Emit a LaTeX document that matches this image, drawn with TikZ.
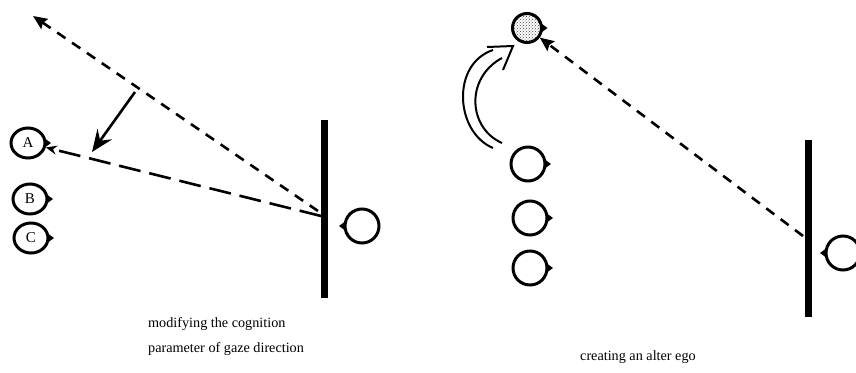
\documentclass[tikz,border=0pt]{standalone}
\usepackage{fontspec}
\setmainfont{Liberation Serif}
\usetikzlibrary{arrows.meta,patterns,shapes.geometric}

% small pointed "nose" on the side a head is facing
\newcommand\noseright[1]{\fill (#1.east) ++(-1,-4) -- ++(5.5,4) -- ++(-5.5,4) -- cycle;}
\newcommand\noseleft[1]{\fill (#1.west) ++(1,-4) -- ++(-5.5,4) -- ++(5.5,4) -- cycle;}

\begin{document}
\begin{tikzpicture}[x=1pt,y=-1pt,
  head/.style={circle, draw, line width=3pt, minimum size=34pt, inner sep=0pt},
  lettered/.style={ellipse, draw, line width=3pt, minimum width=34pt,
               minimum height=30pt, inner sep=0pt, font=\fontsize{15}{15}\selectfont},
  wall/.style={line width=7pt},
  gaze/.style={line width=2.6pt, dash pattern=on 10pt off 8pt,
               -{Stealth[length=14pt,width=12pt,inset=2pt]}},
  longgaze/.style={line width=2.6pt, dash pattern=on 22pt off 9pt,
               -{Stealth[length=11pt,width=9pt]}},
  turnarrow/.style={line width=2.6pt, -{Stealth[length=22pt,width=18pt,inset=8pt]}},
  hollow/.style={line width=2pt},
  caption/.style={anchor=base west, font=\fontsize{14.2}{14.2}\selectfont, inner sep=0pt}
]
\useasboundingbox (0,0) rectangle (856,372);

% ---------- left panel: modifying the gaze parameter ----------
\node[lettered] (A) at (28,143) {A};
\node[lettered] (B) at (30,199) {B};
\node[lettered] (C) at (31,238) {C};
\noseright{A}\noseright{B}\noseright{C}

\draw[wall] (324,120) -- (324,298);
\node[head] (L) at (362,226) {};
\noseleft{L}

\coordinate (gl) at (318,211);
\coordinate (gr) at (321,216);
\coordinate (far) at (33,16);
\draw[gaze] (gl) -- (far);
\draw[longgaze] (gr) -- (A);

\coordinate (s1) at (135,92);
\coordinate (s2) at (92,152);
\draw[turnarrow] (s1) -- (s2);

\node[caption] (t1) at (148,327) {modifying the cognition};
\node[caption] (t2) at (148,352) {parameter of gaze direction};

% ---------- right panel: creating an alter ego ----------
\node[head, minimum size=29pt, pattern=crosshatch dots, pattern color=black!75] (E) at (527,28) {};
\noseright{E}
\node[head] (P) at (528,164) {};
\node[head] (Q) at (530,218) {};
\node[head] (R) at (530,268) {};
\noseright{P}\noseright{Q}\noseright{R}

\draw[wall] (808,140) -- (808,317);
\begin{scope}
  \clip (0,0) rectangle (856,372);
  \node[head] (M) at (843,253) {};
\end{scope}
\noseleft{M}

\coordinate (gm) at (803,236);
\draw[gaze] (gm) -- (E);

% hollow curved arrow from the row of heads up to the alter ego
\draw[hollow] (493,148) .. controls (455,132) and (451,64) .. (493,50);
\draw[hollow] (502,143) .. controls (468,128) and (465,78) .. (502,58);
\draw[hollow, line join=miter] (487,47) -- (513,46) -- (503,70);

\node[caption] (t3) at (580,360) {creating an alter ego};
\end{tikzpicture}
\end{document}
